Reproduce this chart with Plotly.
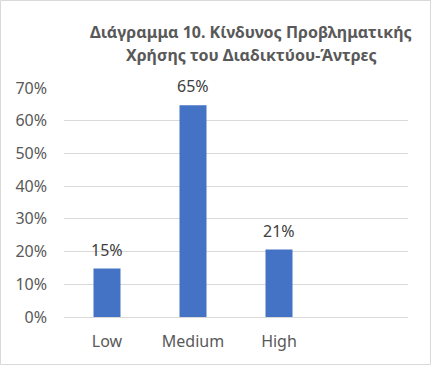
import plotly.graph_objects as go

categories = ["Low", "Medium", "High"]
values = [0.148, 0.647, 0.206]
title_lines = ["Διάγραμμα 10. Κίνδυνος Προβληματικής", "Χρήσης του Διαδικτύου-Άντρες"]
y_ticks = [0, 0.1, 0.2, 0.3, 0.4, 0.5, 0.6, 0.7]

W, H = 432, 366
L, R, T, B = 64, 24, 88, 49
pw, ph = W - L - R, H - T - B

font_family = "Noto Sans, Open Sans, sans-serif"

fig = go.Figure(go.Bar(
    x=list(range(len(categories))),
    y=values,
    width=0.314,
    marker=dict(color="#4472C4", line=dict(width=0)),
    hoverinfo="skip",
))

for i, v in enumerate(values):
    fig.add_annotation(
        x=i, y=v, xref="x", yref="y", text=f"{round(v * 100)}%",
        showarrow=False, yanchor="bottom", yshift=6,
        font=dict(size=16, color="#404040", family=font_family),
    )

fig.update_layout(
    width=W, height=H,
    margin=dict(l=L, r=R, t=T, b=B),
    paper_bgcolor="white", plot_bgcolor="white",
    showlegend=False,
    font=dict(family=font_family, color="#595959"),
    xaxis=dict(range=[-0.5, 3.5], tickvals=list(range(len(categories))), ticktext=categories,
               showgrid=False, zeroline=False, showline=False, ticks="",
               tickfont=dict(size=16, color="#595959"), ticklabelstandoff=13),
    yaxis=dict(range=[0, 0.7], tickvals=y_ticks, tickformat=".0%",
               showgrid=True, gridcolor="#d9d9d9", gridwidth=1, zeroline=True,
               zerolinecolor="#d9d9d9", zerolinewidth=1, showline=False, ticks="",
               tickfont=dict(size=16, color="#595959"), ticklabelstandoff=16),
)

title_y = [32, 55]
for line, yy in zip(title_lines, title_y):
    fig.add_annotation(
        text=f"<b>{line}</b>", showarrow=False,
        xref="paper", yref="paper",
        x=(251 - L) / pw, y=(H - B - yy) / ph,
        xanchor="center", yanchor="middle",
        font=dict(size=16, color="#595959", family=font_family),
    )

fig.add_shape(type="rect", xref="paper", yref="paper",
              x0=(0.5 - L) / pw, x1=(W - 1.5 - L) / pw,
              y0=(H - B - (H - 1.5)) / ph, y1=(H - B - 0.5) / ph,
              line=dict(color="#d9d9d9", width=1), fillcolor="rgba(0,0,0,0)", layer="below")

fig.write_html("out.html", config={"displayModeBar": False},
               post_script="document.body.style.margin='0';document.body.style.overflow='hidden';")
